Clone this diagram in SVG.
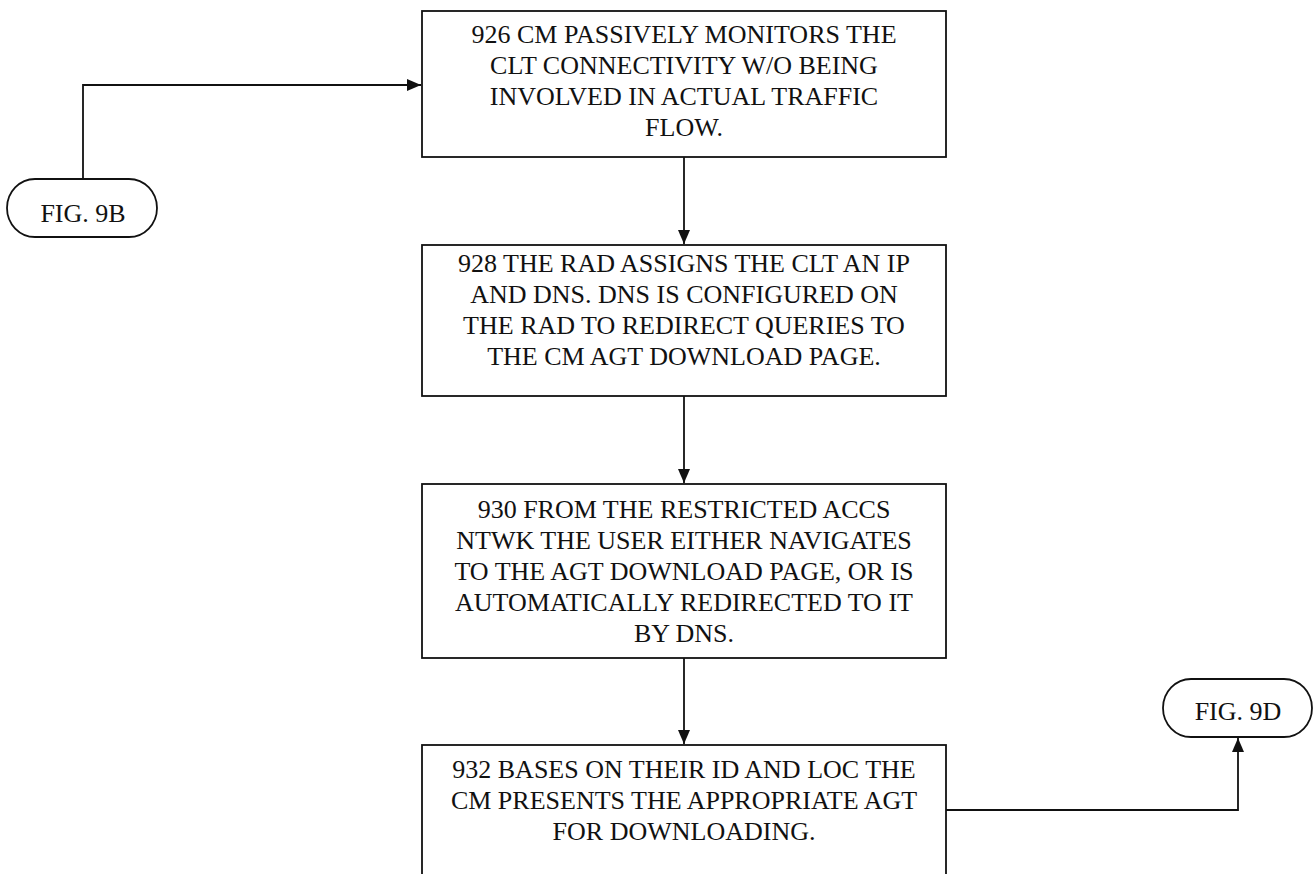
<svg xmlns="http://www.w3.org/2000/svg" width="1314" height="874" viewBox="0 0 1314 874">
  <style>
    .box { fill: #fff; stroke: #111; stroke-width: 1.8; }
    .pill { fill: #fff; stroke: #111; stroke-width: 1.8; }
    .lbl { font-family: "Liberation Serif", "Times New Roman", serif; font-size: 26px; fill: #111; text-anchor: middle; }
    .wire { fill: none; stroke: #111; stroke-width: 1.8; }
  </style>
  <defs>
    <marker id="arrow" viewBox="0 0 14 12" refX="14" refY="6" markerWidth="14" markerHeight="12" markerUnits="userSpaceOnUse" orient="auto">
      <path d="M0,0 L14,6 L0,12 Z" fill="#111"/>
    </marker>
  </defs>
  <rect width="1314" height="874" fill="#fff"/>

  <!-- connectors -->
  <g id="connectors">
    <path class="wire" d="M83,179 V85 H421" marker-end="url(#arrow)"/>
    <path class="wire" d="M684,157 V244" marker-end="url(#arrow)"/>
    <path class="wire" d="M684,396 V483" marker-end="url(#arrow)"/>
    <path class="wire" d="M684,658 V744" marker-end="url(#arrow)"/>
    <path class="wire" d="M946,810 H1238 V738" marker-end="url(#arrow)"/>
  </g>

  <!-- off-page connector in -->
  <g id="fig9b">
    <rect class="pill" x="7" y="179" width="150" height="58" rx="28" ry="29"/>
    <text class="lbl" x="83" y="222">FIG. 9B</text>
  </g>

  <!-- step 926 -->
  <g id="step926">
    <rect class="box" x="422" y="11" width="524" height="146"/>
    <text class="lbl" x="684" y="43">926 CM PASSIVELY MONITORS THE</text>
    <text class="lbl" x="684" y="74">CLT CONNECTIVITY W/O BEING</text>
    <text class="lbl" x="684" y="105">INVOLVED IN ACTUAL TRAFFIC</text>
    <text class="lbl" x="684" y="136">FLOW.</text>
  </g>

  <!-- step 928 -->
  <g id="step928">
    <rect class="box" x="422" y="245" width="524" height="151"/>
    <text class="lbl" x="684" y="272">928 THE RAD ASSIGNS THE CLT AN IP</text>
    <text class="lbl" x="684" y="303">AND DNS. DNS IS CONFIGURED ON</text>
    <text class="lbl" x="684" y="334">THE RAD TO REDIRECT QUERIES TO</text>
    <text class="lbl" x="684" y="365">THE CM AGT DOWNLOAD PAGE.</text>
  </g>

  <!-- step 930 -->
  <g id="step930">
    <rect class="box" x="422" y="484" width="524" height="174"/>
    <text class="lbl" x="684" y="518">930 FROM THE RESTRICTED ACCS</text>
    <text class="lbl" x="684" y="549">NTWK THE USER EITHER NAVIGATES</text>
    <text class="lbl" x="684" y="580">TO THE AGT DOWNLOAD PAGE, OR IS</text>
    <text class="lbl" x="684" y="611">AUTOMATICALLY REDIRECTED TO IT</text>
    <text class="lbl" x="684" y="642">BY DNS.</text>
  </g>

  <!-- step 932 (continues below the sheet edge) -->
  <g id="step932">
    <rect class="box" x="422" y="745" width="524" height="140"/>
    <text class="lbl" x="684" y="778">932 BASES ON THEIR ID AND LOC THE</text>
    <text class="lbl" x="684" y="809">CM PRESENTS THE APPROPRIATE AGT</text>
    <text class="lbl" x="684" y="840">FOR DOWNLOADING.</text>
  </g>

  <!-- off-page connector out -->
  <g id="fig9d">
    <rect class="pill" x="1163" y="679" width="149" height="58" rx="28" ry="29"/>
    <text class="lbl" x="1238" y="720">FIG. 9D</text>
  </g>
</svg>
